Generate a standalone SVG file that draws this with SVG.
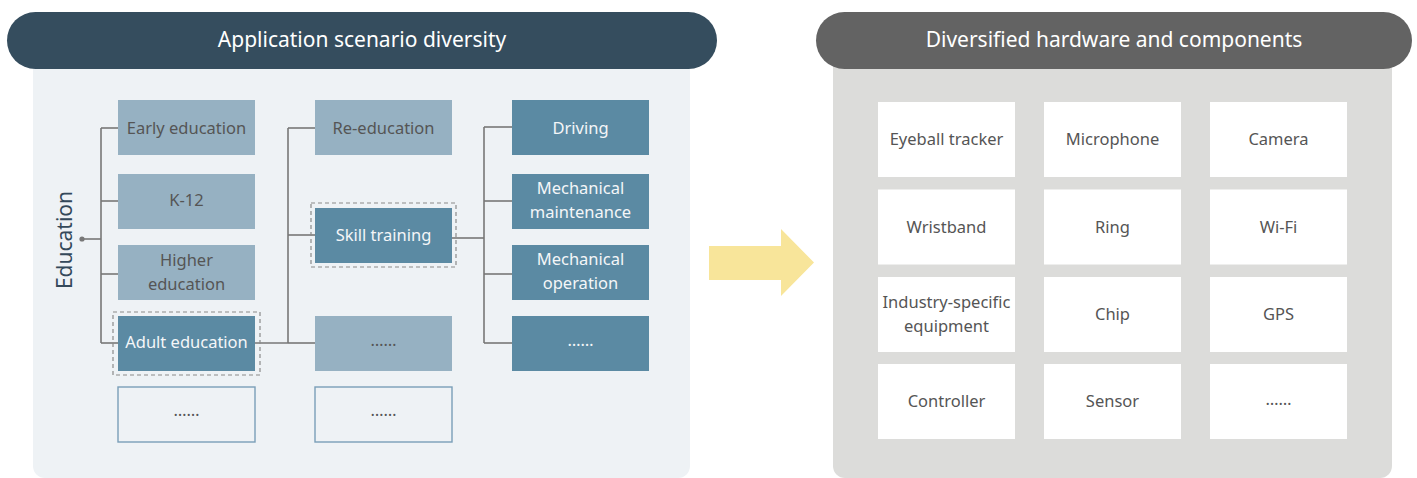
<svg xmlns="http://www.w3.org/2000/svg" width="1417" height="478" viewBox="0 0 1417 478">
  <style>
    text { font-family: "Noto Sans", "Open Sans", "Liberation Sans", sans-serif; text-anchor: middle; dominant-baseline: central; }
    .hdr { font-size: 21px; fill: #ffffff; }
    .lbl { font-size: 16.5px; }
    .light { fill: #96b1c2; }
    .dark { fill: #5b8aa3; }
    .open { fill: #eef2f5; stroke: #7a9fb8; stroke-width: 1.4; }
    .tl { fill: #555555; }
    .tw { fill: #f4f6f8; }
    .dash { fill: none; stroke: #8a8a8a; stroke-width: 1.2; stroke-dasharray: 4 3; }
    .hw { fill: #ffffff; }
    .th { font-size: 16.5px; fill: #555555; }
    .conn line { stroke: #777777; stroke-width: 1.6; fill: none; }
  </style>

  <!-- left panel: application scenarios -->
  <g id="scenario-panel">
    <rect x="33" y="40" width="657" height="438" rx="12" fill="#eef2f5"/>
    <rect x="7" y="12" width="710" height="57" rx="28.5" fill="#354d5e"/>
    <text class="hdr" x="362" y="39">Application scenario diversity</text>
  </g>

  <!-- right panel: hardware -->
  <g id="hardware-panel">
    <rect x="833" y="40" width="559" height="438" rx="12" fill="#dcdcda"/>
    <rect x="816" y="12" width="596" height="57" rx="28.5" fill="#636363"/>
    <text class="hdr" x="1114" y="39">Diversified hardware and components</text>
  </g>

  <!-- transition arrow -->
  <g id="arrow">
    <polygon points="709,246 781,246 781,229 814,262.5 781,296 781,280 709,280" fill="#f8e59a"/>
  </g>

  <!-- tree connectors -->
  <g class="conn" id="connectors">
    <line x1="82" y1="239" x2="101" y2="239"/>
    <line x1="101" y1="128" x2="101" y2="343"/>
    <line x1="101" y1="128" x2="118" y2="128"/>
    <line x1="101" y1="201" x2="118" y2="201"/>
    <line x1="101" y1="274" x2="118" y2="274"/>
    <line x1="101" y1="343" x2="118" y2="343"/>

    <line x1="255" y1="343" x2="288" y2="343"/>
    <line x1="288" y1="128" x2="288" y2="343"/>
    <line x1="288" y1="128" x2="315" y2="128"/>
    <line x1="288" y1="235" x2="315" y2="235"/>
    <line x1="288" y1="343" x2="315" y2="343"/>

    <line x1="452" y1="238" x2="484" y2="238"/>
    <line x1="484" y1="127" x2="484" y2="343"/>
    <line x1="484" y1="127" x2="512" y2="127"/>
    <line x1="484" y1="201" x2="512" y2="201"/>
    <line x1="484" y1="274" x2="512" y2="274"/>
    <line x1="484" y1="343" x2="512" y2="343"/>
    <circle cx="82" cy="239" r="2.6" fill="#777777"/>
  </g>

  <!-- root -->
  <g id="education">
    <text x="64" y="240" transform="rotate(-90 64 240)" font-size="21" fill="#34495a">Education</text>
  </g>

  <!-- column 1 -->
  <g id="early-education">
    <rect class="light" x="118" y="100" width="137" height="55"/>
    <text class="lbl tl" x="186.5" y="127">Early education</text>
  </g>
  <g id="k12">
    <rect class="light" x="118" y="174" width="137" height="55"/>
    <text class="lbl tl" x="186.5" y="199">K-12</text>
  </g>
  <g id="higher-education">
    <rect class="light" x="118" y="245" width="137" height="55"/>
    <text class="lbl tl" x="186.5" y="259">Higher</text>
    <text class="lbl tl" x="186.5" y="283">education</text>
  </g>
  <g id="adult-education">
    <rect class="dash" x="113" y="312" width="147" height="63"/>
    <rect class="dark" x="118" y="316" width="137" height="55"/>
    <text class="lbl tw" x="186.5" y="341">Adult education</text>
  </g>
  <g id="more-1">
    <rect class="open" x="118" y="387" width="137" height="55"/>
    <text class="lbl tl" x="186.5" y="409">……</text>
  </g>

  <!-- column 2 -->
  <g id="re-education">
    <rect class="light" x="315" y="100" width="137" height="55"/>
    <text class="lbl tl" x="383.5" y="127">Re-education</text>
  </g>
  <g id="skill-training">
    <rect class="dash" x="311" y="203" width="145" height="64"/>
    <rect class="dark" x="315" y="208" width="137" height="55"/>
    <text class="lbl tw" x="383.5" y="234">Skill training</text>
  </g>
  <g id="more-2">
    <rect class="light" x="315" y="316" width="137" height="55"/>
    <text class="lbl tl" x="383.5" y="339">……</text>
  </g>
  <g id="more-2b">
    <rect class="open" x="315" y="387" width="137" height="55"/>
    <text class="lbl tl" x="383.5" y="409">……</text>
  </g>

  <!-- column 3 -->
  <g id="driving">
    <rect class="dark" x="512" y="100" width="137" height="55"/>
    <text class="lbl tw" x="580.5" y="127">Driving</text>
  </g>
  <g id="mech-maintenance">
    <rect class="dark" x="512" y="174" width="137" height="55"/>
    <text class="lbl tw" x="580.5" y="187">Mechanical</text>
    <text class="lbl tw" x="580.5" y="211">maintenance</text>
  </g>
  <g id="mech-operation">
    <rect class="dark" x="512" y="245" width="137" height="55"/>
    <text class="lbl tw" x="580.5" y="258">Mechanical</text>
    <text class="lbl tw" x="580.5" y="282">operation</text>
  </g>
  <g id="more-3">
    <rect class="dark" x="512" y="316" width="137" height="55"/>
    <text class="lbl tw" x="580.5" y="339">……</text>
  </g>

  <!-- hardware grid -->
  <g id="eyeball-tracker"><rect class="hw" x="878" y="102" width="137" height="75"/><text class="th" x="946.5" y="138">Eyeball tracker</text></g>
  <g id="microphone"><rect class="hw" x="1044" y="102" width="137" height="75"/><text class="th" x="1112.5" y="138">Microphone</text></g>
  <g id="camera"><rect class="hw" x="1210" y="102" width="137" height="75"/><text class="th" x="1278.5" y="138">Camera</text></g>

  <g id="wristband"><rect class="hw" x="878" y="189.5" width="137" height="75"/><text class="th" x="946.5" y="226">Wristband</text></g>
  <g id="ring"><rect class="hw" x="1044" y="189.5" width="137" height="75"/><text class="th" x="1112.5" y="226">Ring</text></g>
  <g id="wifi"><rect class="hw" x="1210" y="189.5" width="137" height="75"/><text class="th" x="1278.5" y="226">Wi-Fi</text></g>

  <g id="industry-equipment"><rect class="hw" x="878" y="277" width="137" height="75"/><text class="th" x="946.5" y="301">Industry-specific</text><text class="th" x="946.5" y="325">equipment</text></g>
  <g id="chip"><rect class="hw" x="1044" y="277" width="137" height="75"/><text class="th" x="1112.5" y="313">Chip</text></g>
  <g id="gps"><rect class="hw" x="1210" y="277" width="137" height="75"/><text class="th" x="1278.5" y="313">GPS</text></g>

  <g id="controller"><rect class="hw" x="878" y="364" width="137" height="75"/><text class="th" x="946.5" y="400">Controller</text></g>
  <g id="sensor"><rect class="hw" x="1044" y="364" width="137" height="75"/><text class="th" x="1112.5" y="400">Sensor</text></g>
  <g id="more-hw"><rect class="hw" x="1210" y="364" width="137" height="75"/><text class="th" x="1278.5" y="398">……</text></g>
</svg>
